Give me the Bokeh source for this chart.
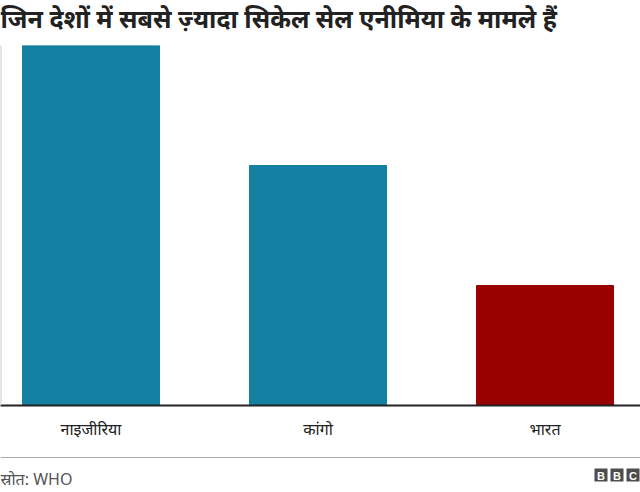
from bokeh.plotting import figure
from bokeh.layouts import column
from bokeh.models import ColumnDataSource, Range1d, Span, FixedTicker
from bokeh.core.properties import value
from bokeh.embed import file_html
from bokeh.resources import INLINE

countries = ["नाइजीरिया", "कांगो", "भारत"]
values = [3, 2, 1]
colors = ["#1380A1", "#1380A1", "#990000"]
title_text = "जिन देशों में सबसे ज़्यादा सिकेल सेल एनीमिया के मामले हैं"
source_text = "स्रोत: WHO"
logo_letters = ["B", "B", "C"]

W = 640
FONT = "Noto Sans"

# ---- header ----
head = figure(width=W, height=40, output_backend="svg", toolbar_location=None,
              x_range=Range1d(0, W), y_range=Range1d(40, 0),
              min_border=0, outline_line_color=None)
head.axis.visible = False
head.grid.visible = False
head.text(x=[0], y=[17], text=[title_text], text_font=value(FONT), text_font_style="bold",
          text_font_size="25px", text_color="#222222", text_baseline="middle", text_align="left")

# ---- main chart ----
xs = list(range(len(countries)))
src = ColumnDataSource(dict(x=xs, top=values, color=colors))
x0, x1 = -0.3987, 2.4207
p = figure(width=W, height=405, output_backend="svg", toolbar_location=None,
           x_range=Range1d(x0, x1), y_range=Range1d(0, max(values)),
           min_border_left=0, min_border_right=0, min_border_top=5, min_border_bottom=40)
p.outline_line_color = None
p.grid.visible = False
p.yaxis.visible = False
p.vbar(x="x", top="top", width=0.6035, bottom=0, color="color", source=src)
p.add_layout(Span(location=x0, dimension="height", line_color="#cccccc", line_width=2))

ax = p.xaxis[0]
ax.ticker = FixedTicker(ticks=xs)
ax.major_label_overrides = {i: c for i, c in enumerate(countries)}
ax.major_tick_line_color = None
ax.minor_tick_line_color = None
ax.axis_line_color = "#222222"
ax.axis_line_width = 2
ax.major_label_text_font = FONT
ax.major_label_text_font_size = "16px"
ax.major_label_text_color = "#222222"
ax.major_label_standoff = 6

# ---- footer ----
foot = figure(width=W, height=47, output_backend="svg", toolbar_location=None,
              x_range=Range1d(0, W), y_range=Range1d(47, 0),
              min_border=0, outline_line_color=None)
foot.axis.visible = False
foot.grid.visible = False
foot.line(x=[0, W], y=[12, 12], line_color="#aaaaaa", line_width=1)
foot.text(x=[0], y=[33], text=[source_text], text_font=value(FONT), text_font_size="16px",
          text_color="#555555", text_baseline="middle", text_align="left")
lx = [600.5, 616.5, 632.5]
foot.rect(x=lx, y=[29.5] * 3, width=13, height=13, fill_color="#4d4d4d", line_color=None)
foot.text(x=lx, y=[30] * 3, text=logo_letters, text_font=value("Liberation Sans"),
          text_font_style="bold", text_font_size="11px", text_color="white",
          text_baseline="middle", text_align="center")

layout = column(head, p, foot, spacing=0)
open("out.html", "w").write(file_html(layout, INLINE))
